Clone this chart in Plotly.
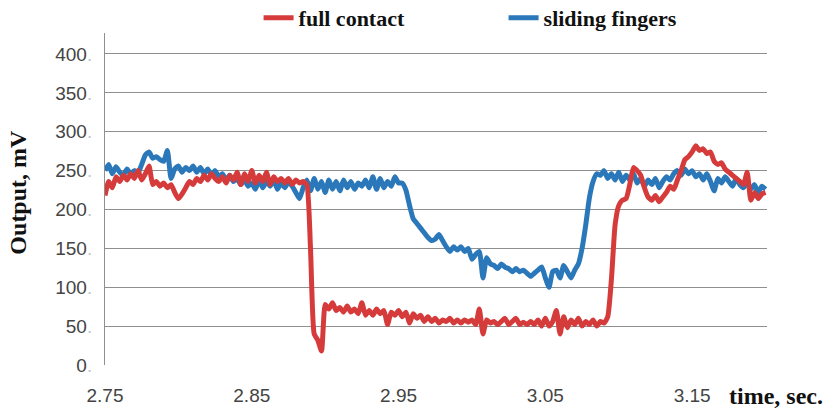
import numpy as np
import plotly.graph_objects as go

# Sample times (s): one reading every 2.5 ms from 2.75 s to 3.20 s
t_start = 2.75
t_step = 0.0025

# Sensor output (mV), full-contact grip
full_contact = [
    218, 236, 228, 242, 236, 244, 238, 246, 240, 250,
    238, 246, 256, 232, 236, 230, 234, 228, 232, 222,
    214, 220, 228, 236, 232, 240, 236, 244, 238, 246,
    240, 236, 242, 234, 244, 238, 248, 232, 246, 236,
    250, 234, 244, 236, 248, 232, 242, 236, 240, 234,
    240, 232, 238, 234, 236, 232, 150, 40, 32, 18,
    78, 72, 80, 70, 74, 68, 76, 68, 72, 66,
    80, 64, 70, 64, 72, 66, 70, 52, 68, 64,
    70, 62, 68, 54, 66, 60, 64, 56, 62, 56,
    60, 54, 58, 56, 60, 54, 58, 54, 58, 55,
    58, 52, 72, 40, 58, 54, 56, 52, 56, 60,
    52, 56, 60, 52, 55, 52, 56, 52, 58, 50,
    60, 50, 56, 70, 40, 62, 48, 58, 52, 60,
    50, 56, 52, 58, 50, 56, 54, 62, 110, 180,
    205, 212, 214, 232, 254, 250, 244, 228, 216, 212,
    218, 210, 216, 222, 230, 226, 238, 250, 264, 268,
    274, 282, 276, 278, 272, 274, 262, 258, 260, 252,
    248, 244, 240, 236, 232, 248, 212, 222, 214, 220,
    222,
]

# Sensor output (mV), sliding-fingers grip
sliding_fingers = [
    250, 258, 246, 255, 248, 244, 252, 246, 250, 247,
    258, 270, 274, 266, 268, 264, 262, 276, 240, 252,
    256, 248, 254, 250, 256, 248, 254, 246, 252, 244,
    250, 242, 246, 238, 244, 236, 240, 232, 238, 230,
    234, 226, 238, 228, 236, 230, 238, 226, 234, 228,
    236, 230, 222, 214, 228, 238, 224, 240, 226, 236,
    222, 238, 226, 236, 224, 238, 228, 236, 226, 234,
    230, 238, 228, 242, 226, 240, 228, 236, 230, 242,
    234, 234, 225, 205, 188, 182, 176, 170, 164, 160,
    162, 168, 160, 152, 146, 152, 148, 152, 146, 150,
    136, 142, 146, 112, 138, 130, 128, 124, 130, 126,
    124, 120, 124, 120, 122, 118, 114, 118, 122, 126,
    112, 100, 120, 122, 112, 128, 120, 112, 122, 130,
    150, 180, 215, 236, 246, 244, 250, 240, 246, 238,
    248, 236, 244, 238, 246, 234, 240, 230, 238, 232,
    240, 228, 236, 242, 238, 246, 250, 244, 252, 246,
    250, 242, 246, 238, 246, 236, 224, 240, 234, 242,
    236, 230, 240, 232, 228, 234, 226, 232, 222, 230,
    226,
]

t = t_start + t_step * np.arange(len(full_contact))

x_ticks = [2.75, 2.85, 2.95, 3.05, 3.15]
x_tick_labels = ["2.75", "2.85", "2.95", "3.05", "3.15"]
y_ticks = [0, 50, 100, 150, 200, 250, 300, 350, 400]
y_tick_labels = [f"{v}<span style='color:#c4c4c4'>.</span>" for v in y_ticks]

RED = "#d63b3b"
BLUE = "#2a78b9"
GRID = "#8f8f8f"
TICK_FONT = dict(family="Liberation Sans", size=19, color="#444444")
SERIF_BOLD = "Liberation Serif"

fig = go.Figure()
fig.add_trace(go.Scatter(
    x=t, y=sliding_fingers, mode="lines", name="<b>sliding fingers</b>",
    line=dict(color=BLUE, width=5, shape="spline", smoothing=0.5),
    legendrank=2,
))
fig.add_trace(go.Scatter(
    x=t, y=full_contact, mode="lines", name="<b>full contact</b>",
    line=dict(color=RED, width=5, shape="spline", smoothing=0.5),
    legendrank=1,
))

fig.update_layout(
    width=828, height=408,
    margin=dict(l=105, r=61, t=33, b=43, autoexpand=False),
    paper_bgcolor="white", plot_bgcolor="white",
    showlegend=True,
    legend=dict(
        orientation="h", x=0.232, xanchor="left", y=1.045, yanchor="middle",
        font=dict(family=SERIF_BOLD, size=22, color="#111111"),
        entrywidthmode="pixels", entrywidth=200,
        bgcolor="rgba(0,0,0,0)", tracegroupgap=0,
    ),
    xaxis=dict(
        range=[2.75, 3.201], tickmode="array", tickvals=x_ticks, ticktext=x_tick_labels,
        showgrid=False, zeroline=False, showline=False, ticks="",
        tickfont=TICK_FONT, ticklabelstandoff=17, automargin=False,
    ),
    yaxis=dict(
        range=[0, 427], tickmode="array", tickvals=y_ticks, ticktext=y_tick_labels,
        showgrid=True, gridcolor=GRID, gridwidth=1, zeroline=False,
        showline=True, linecolor=GRID, linewidth=1, ticks="",
        tickfont=TICK_FONT, ticklabelstandoff=8, automargin=False,
    ),
    annotations=[
        dict(text="<b>time, sec.</b>", xref="paper", yref="paper",
             x=1.0876, y=-0.094, xanchor="right", yanchor="middle", showarrow=False,
             font=dict(family=SERIF_BOLD, size=24, color="#111111")),
        dict(text="<b>Output, mV</b>", xref="paper", yref="paper",
             x=-0.131, y=0.52, xanchor="center", yanchor="middle", showarrow=False,
             textangle=-90, font=dict(family=SERIF_BOLD, size=24, color="#111111")),
    ],
)

fig.write_html("out.html")
